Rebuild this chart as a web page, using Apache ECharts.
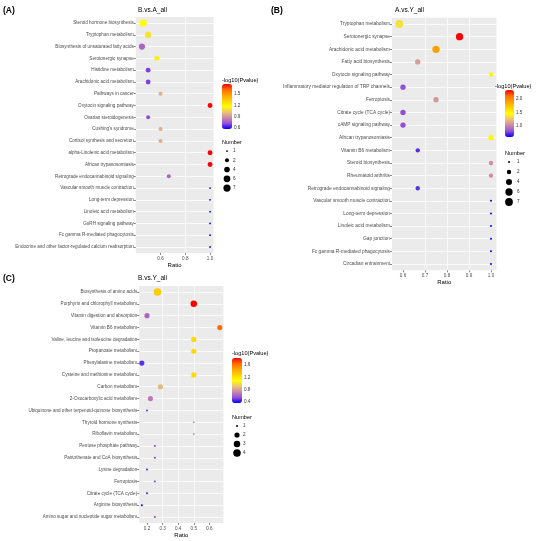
<!DOCTYPE html>
<html>
<head>
<meta charset="utf-8">
<script src="https://cdn.jsdelivr.net/npm/echarts@6/dist/echarts.min.js"></script>
<style>
html, body { margin: 0; padding: 0; background: #fff; }
#chart { width: 550px; height: 541px; }
</style>
</head>
<body>
<div id="chart"></div>
<script>
// ---- (A) B.vs.A_all ----
var aPathways = [
    'Steroid hormone biosynthesis', 'Tryptophan metabolism', 'Biosynthesis of unsaturated fatty acids',
    'Serotonergic synapse', 'Histidine metabolism', 'Arachidonic acid metabolism', 'Pathways in cancer',
    'Oxytocin signaling pathway', 'Ovarian steroidogenesis', "Cushing's syndrome",
    'Cortisol synthesis and secretion', 'alpha-Linolenic acid metabolism', 'African trypanosomiasis',
    'Retrograde endocannabinoid signaling', 'Vascular smooth muscle contraction', 'Long-term depression',
    'Linoleic acid metabolism', 'GnRH signaling pathway', 'Fc gamma R-mediated phagocytosis',
    'Endocrine and other factor-regulated calcium reabsorption'
];
var aRatio  = [0.46, 0.5, 0.45, 0.571, 0.5, 0.5, 0.6, 1.0, 0.5, 0.6, 0.6, 1.0, 1.0, 0.667, 1.0, 1.0, 1.0, 1.0, 1.0, 1.0];
var aLogP   = [1.17, 1.1, 0.78, 1.22, 0.7, 0.7, 0.97, 1.77, 0.72, 0.97, 0.97, 1.77, 1.77, 0.78, 0.575, 0.575, 0.575, 0.575, 0.575, 0.575];
var aNumber = [7, 6, 5, 3, 3, 3, 2, 3, 2, 2, 2, 3, 3, 2, 1, 1, 1, 1, 1, 1];
var aRatioTicks = [0.6, 0.8, 1.0];
var aColorTicks = [0.6, 0.9, 1.2, 1.5];
var aSizeBreaks = [1, 2, 4, 6, 7];

// ---- (B) A.vs.Y_all ----
var bPathways = [
    'Tryptophan metabolism', 'Serotonergic synapse', 'Arachidonic acid metabolism', 'Fatty acid biosynthesis',
    'Oxytocin signaling pathway', 'Inflammatory mediator regulation of TRP channels', 'Ferroptosis',
    'Citrate cycle (TCA cycle)', 'cAMP signaling pathway', 'African trypanosomiasis', 'Vitamin B6 metabolism',
    'Steroid biosynthesis', 'Rheumatoid arthritis', 'Retrograde endocannabinoid signaling',
    'Vascular smooth muscle contraction', 'Long-term depression', 'Linoleic acid metabolism', 'Gap junction',
    'Fc gamma R-mediated phagocytosis', 'Circadian entrainment'
];
var bRatio  = [0.583, 0.857, 0.75, 0.667, 1.0, 0.6, 0.75, 0.6, 0.6, 1.0, 0.667, 1.0, 1.0, 0.667, 1.0, 1.0, 1.0, 1.0, 1.0, 1.0];
var bLogP   = [1.35, 2.33, 1.9, 1.1, 1.5, 0.8, 1.08, 0.8, 0.8, 1.5, 0.72, 1.04, 1.04, 0.72, 0.59, 0.59, 0.59, 0.59, 0.59, 0.59];
var bNumber = [7, 6, 6, 3, 2, 3, 3, 3, 3, 3, 2, 2, 2, 2, 1, 1, 1, 1, 1, 1];
var bRatioTicks = [0.6, 0.7, 0.8, 0.9, 1.0];
var bColorTicks = [1.0, 1.5, 2.0];
var bSizeBreaks = [1, 2, 4, 6, 7];

// ---- (C) B.vs.Y_all ----
var cPathways = [
    'Biosynthesis of amino acids', 'Porphyrin and chlorophyll metabolism', 'Vitamin digestion and absorption',
    'Vitamin B6 metabolism', 'Valine, leucine and isoleucine degradation', 'Propanoate metabolism',
    'Phenylalanine metabolism', 'Cysteine and methionine metabolism', 'Carbon metabolism',
    '2-Oxocarboxylic acid metabolism', 'Ubiquinone and other terpenoid-quinone biosynthesis',
    'Thyroid hormone synthesis', 'Riboflavin metabolism', 'Pentose phosphate pathway',
    'Pantothenate and CoA biosynthesis', 'Lysine degradation', 'Ferroptosis', 'Citrate cycle (TCA cycle)',
    'Arginine biosynthesis', 'Amino sugar and nucleotide sugar metabolism'
];
var cRatio  = [0.267, 0.5, 0.2, 0.667, 0.5, 0.5, 0.167, 0.5, 0.286, 0.222, 0.2, 0.5, 0.5, 0.25, 0.25, 0.2, 0.25, 0.2, 0.167, 0.25];
var cLogP   = [1.3, 1.83, 0.62, 1.65, 1.25, 1.25, 0.48, 1.25, 0.88, 0.68, 0.48, 0.78, 0.78, 0.52, 0.52, 0.45, 0.52, 0.45, 0.37, 0.52];
var cNumber = [4, 3, 2, 2, 2, 2, 2, 2, 2, 2, 1, 1, 1, 1, 1, 1, 1, 1, 1, 1];
var cRatioTicks = [0.2, 0.3, 0.4, 0.5, 0.6];
var cColorTicks = [0.4, 0.8, 1.2, 1.6];
var cSizeBreaks = [1, 2, 3, 4];

// blue -> yellow -> red (Lab-like stops)
var PALETTE = ['#0000FF', '#9850D5', '#CA8AAA', '#EAC476', '#FFFF00', '#FFD100', '#FFA200', '#FF6C00', '#FF0000'];
var FONT = 'Liberation Sans, Arial, sans-serif';

function sizeScale(dmin, dmax, nmin, nmax) {
    return function (n) { return dmin + (dmax - dmin) * Math.sqrt((n - nmin) / (nmax - nmin)); };
}
function inList(list, v) {
    return list.some(function (t) { return Math.abs(t - v) < 1e-6; });
}

var panels = [
    {
        label: '(A)', labelPos: [3, 6], title: 'B.vs.A_all', titlePos: [138, 6.5],
        names: aPathways, ratio: aRatio, logp: aLogP, num: aNumber,
        grid: {left: 135.75, top: 17.1, width: 77.75, height: 235.8},
        xMin: 0.4, xMax: 1.028, xInterval: 0.1, xTicks: aRatioTicks, yFont: 4.6,
        size: sizeScale(1.8, 7.2, 1, 7),
        cbTitlePos: [222, 77], cb: {left: 222, top: 84, w: 10, h: 45, min: 0.575, max: 1.77}, cTicks: aColorTicks,
        numTitlePos: [222, 139], sz: {cx: 227, top: 146.4, h: 46.25, margin: 3}, breaks: aSizeBreaks
    },
    {
        label: '(B)', labelPos: [271, 6], title: 'A.vs.Y_all', titlePos: [395, 6.5],
        names: bPathways, ratio: bRatio, logp: bLogP, num: bNumber,
        grid: {left: 392, top: 17.7, width: 104.5, height: 252.6},
        xMin: 0.55, xMax: 1.025, xInterval: 0.05, xTicks: bRatioTicks, yFont: 4.8,
        size: sizeScale(2, 7.8, 1, 7),
        cbTitlePos: [495, 83], cb: {left: 505, top: 90, w: 9, h: 47, min: 0.59, max: 2.33}, cTicks: bColorTicks,
        numTitlePos: [505, 150], sz: {cx: 509, top: 157, h: 50, margin: 5}, breaks: bSizeBreaks
    },
    {
        label: '(C)', labelPos: [3, 274.5], title: 'B.vs.Y_all', titlePos: [138, 274.5],
        names: cPathways, ratio: cRatio, logp: cLogP, num: cNumber,
        grid: {left: 139.2, top: 286.1, width: 84.2, height: 236.8},
        xMin: 0.15, xMax: 0.69, xInterval: 0.05, xTicks: cRatioTicks, yFont: 4.6,
        size: sizeScale(2, 7.5, 1, 4),
        cbTitlePos: [232, 350], cb: {left: 232, top: 358, w: 10, h: 45, min: 0.37, max: 1.83}, cTicks: cColorTicks,
        numTitlePos: [232, 414], sz: {cx: 237, top: 421.5, h: 36, margin: 3}, breaks: cSizeBreaks
    }
];

var titles = [], grids = [], xAxes = [], yAxes = [], series = [], visualMaps = [];

panels.forEach(function (p) {
    var g = grids.length;

    titles.push({text: p.label, left: p.labelPos[0], top: p.labelPos[1], padding: 0,
        textStyle: {fontFamily: FONT, fontSize: 8.5, fontWeight: 'bold', color: '#000'}});
    titles.push({text: p.title, left: p.titlePos[0], top: p.titlePos[1], padding: 0,
        textStyle: {fontFamily: FONT, fontSize: 6.5, fontWeight: 'normal', color: '#000'}});
    titles.push({text: '-log10(Pvalue)', left: p.cbTitlePos[0], top: p.cbTitlePos[1], padding: 0,
        textStyle: {fontFamily: FONT, fontSize: 5.6, fontWeight: 'normal', color: '#000'}});
    titles.push({text: 'Number', left: p.numTitlePos[0], top: p.numTitlePos[1], padding: 0,
        textStyle: {fontFamily: FONT, fontSize: 5.6, fontWeight: 'normal', color: '#000'}});

    // main bubble plot
    grids.push({left: p.grid.left, top: p.grid.top, width: p.grid.width, height: p.grid.height,
        show: true, backgroundColor: '#ebebeb', borderWidth: 0, outerBoundsMode: 'none'});
    xAxes.push({
        type: 'value', gridIndex: g, min: p.xMin, max: p.xMax, interval: p.xInterval,
        name: 'Ratio', nameLocation: 'middle', nameGap: 9,
        nameTextStyle: {fontFamily: FONT, fontSize: 6, color: '#000'},
        axisLine: {show: false},
        axisTick: {show: true, length: 2, customValues: p.xTicks, lineStyle: {color: '#333', width: 0.6}},
        axisLabel: {fontFamily: FONT, fontSize: 4.6, color: '#4d4d4d', margin: 3, customValues: p.xTicks,
            formatter: (function (ticks) {
                return function (v) { return inList(ticks, v) ? v.toFixed(1) : ''; };
            })(p.xTicks)},
        splitLine: {show: true, showMinLine: false, showMaxLine: false, lineStyle: {color: '#fff', width: 0.7}}
    });
    yAxes.push({
        type: 'category', gridIndex: g, data: p.names, inverse: true,
        axisLine: {show: false},
        axisTick: {show: true, alignWithLabel: true, length: 2, lineStyle: {color: '#333', width: 0.6}},
        axisLabel: {interval: 0, fontFamily: FONT, fontSize: p.yFont, color: '#4d4d4d', margin: 2},
        splitLine: {show: true, interval: 0, alignWithLabel: true, lineStyle: {color: '#fff', width: 0.8}}
    });
    var mainIdx = series.length;
    series.push({
        type: 'scatter', xAxisIndex: g, yAxisIndex: g, silent: true,
        data: p.names.map(function (n, i) { return [p.ratio[i], n, p.logp[i], p.num[i]]; }),
        symbolSize: (function (f) { return function (val) { return f(val[3]); }; })(p.size),
        itemStyle: {opacity: 1}
    });

    // colour bar labels
    grids.push({left: p.cb.left, top: p.cb.top, width: p.cb.w, height: p.cb.h, show: false, outerBoundsMode: 'none'});
    xAxes.push({type: 'value', gridIndex: g + 1, show: false});
    yAxes.push({
        type: 'value', gridIndex: g + 1, min: p.cb.min, max: p.cb.max, position: 'right',
        axisLine: {show: false}, splitLine: {show: false},
        axisTick: {show: true, inside: true, length: 2, customValues: p.cTicks, lineStyle: {color: '#fff', width: 0.6}},
        axisLabel: {fontFamily: FONT, fontSize: 4.6, color: '#333', margin: 2, customValues: p.cTicks,
            formatter: (function (ticks) {
                return function (v) { return inList(ticks, v) ? v.toFixed(1) : ''; };
            })(p.cTicks)}
    });
    visualMaps.push({
        type: 'continuous', seriesIndex: mainIdx, dimension: 2, min: p.cb.min, max: p.cb.max,
        orient: 'vertical', left: p.cb.left, top: p.cb.top, itemWidth: p.cb.w, itemHeight: p.cb.h,
        calculable: false, hoverLink: false, padding: 0, text: null, inRange: {color: PALETTE}
    });

    // size legend
    grids.push({left: p.sz.cx - 3, top: p.sz.top, width: 6, height: p.sz.h, show: false, outerBoundsMode: 'none'});
    xAxes.push({type: 'value', gridIndex: g + 2, min: 0, max: 1, show: false});
    yAxes.push({
        type: 'category', gridIndex: g + 2, data: p.breaks.map(String), inverse: true, position: 'right',
        axisLine: {show: false}, axisTick: {show: false}, splitLine: {show: false},
        axisLabel: {interval: 0, fontFamily: FONT, fontSize: 4.6, color: '#333', margin: p.sz.margin}
    });
    series.push({
        type: 'scatter', xAxisIndex: g + 2, yAxisIndex: g + 2, silent: true,
        data: p.breaks.map(function (n) { return [0.5, String(n), n]; }),
        symbolSize: (function (f) { return function (val) { return f(val[2]); }; })(p.size),
        itemStyle: {color: '#000', opacity: 1}
    });
});

var myChart = echarts.init(document.getElementById('chart'));
myChart.setOption({
    backgroundColor: '#fff',
    animation: false,
    title: titles,
    grid: grids,
    xAxis: xAxes,
    yAxis: yAxes,
    visualMap: visualMaps,
    series: series
});
</script>
</body>
</html>
